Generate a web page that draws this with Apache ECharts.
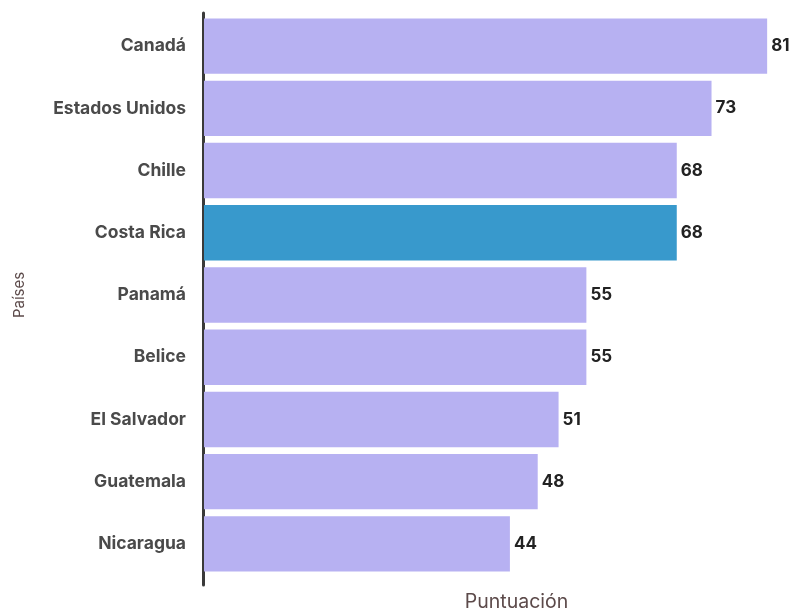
<!DOCTYPE html>
<html>
<head>
<meta charset="utf-8">
<script src="https://cdn.jsdelivr.net/npm/echarts@6/dist/echarts.min.js"></script>
<style>
  html, body { margin: 0; padding: 0; background: #ffffff; }
  #chart { width: 794px; height: 612px; }
</style>
</head>
<body>
<div id="chart"></div>
<script>
// Puntuación por país
const paises = ['Canadá', 'Estados Unidos', 'Chille', 'Costa Rica', 'Panamá', 'Belice', 'El Salvador', 'Guatemala', 'Nicaragua'];
const puntuacion = [81, 73, 68, 68, 55, 55, 51, 48, 44];
const destacado = 'Costa Rica';

const colorBase = '#b7b1f2';
const colorDestacado = '#3899cc';
const fuente = 'Inter, Roboto, "Noto Sans", sans-serif';

const chart = echarts.init(document.getElementById('chart'), null, { renderer: 'canvas' });

chart.setOption({
  animation: false,
  backgroundColor: '#ffffff',
  grid: [
    { left: 204, top: 15, width: 584, height: 560, containLabel: false, outerBoundsMode: 'none' },
    // frame for the vertical axis line, which runs a little past the bars
    { left: 203, top: 13, width: 584, height: 572, containLabel: false, outerBoundsMode: 'none' }
  ],
  xAxis: [
    {
      gridIndex: 0, type: 'value', min: 0, max: 84,
      axisLine: { show: false }, axisTick: { show: false },
      axisLabel: { show: false }, splitLine: { show: false },
      name: 'Puntuación', nameLocation: 'middle', nameGap: 17,
      nameTextStyle: { color: '#5c4a4a', fontSize: 19.5, fontFamily: fuente, padding: [0, 0, 0, 41] }
    },
    {
      gridIndex: 1, type: 'value', min: 0, max: 1, show: false
    }
  ],
  yAxis: [
    {
      gridIndex: 0, type: 'category', data: paises, inverse: true,
      axisLine: { show: false }, axisTick: { show: false },
      axisLabel: { color: '#4a4a4a', fontSize: 17.5, fontWeight: 'bold', fontFamily: fuente, margin: 18 },
      name: 'Países', nameLocation: 'middle', nameGap: 177,
      nameTextStyle: { color: '#5c4a4a', fontSize: 15, fontFamily: fuente }
    },
    {
      gridIndex: 1, type: 'value', min: 0, max: 1,
      axisLine: { show: true, lineStyle: { color: '#3a3a3a', width: 3 } },
      axisTick: { show: false }, axisLabel: { show: false }, splitLine: { show: false }
    }
  ],
  series: [
    {
      type: 'bar',
      xAxisIndex: 0, yAxisIndex: 0,
      barCategoryGap: '11%',
      data: puntuacion.map((v, i) => ({
        value: v,
        itemStyle: { color: paises[i] === destacado ? colorDestacado : colorBase }
      })),
      label: {
        show: true, position: 'right', distance: 4,
        color: '#222222', fontSize: 17, fontWeight: 'bold', fontFamily: fuente
      }
    }
  ]
});
</script>
</body>
</html>
